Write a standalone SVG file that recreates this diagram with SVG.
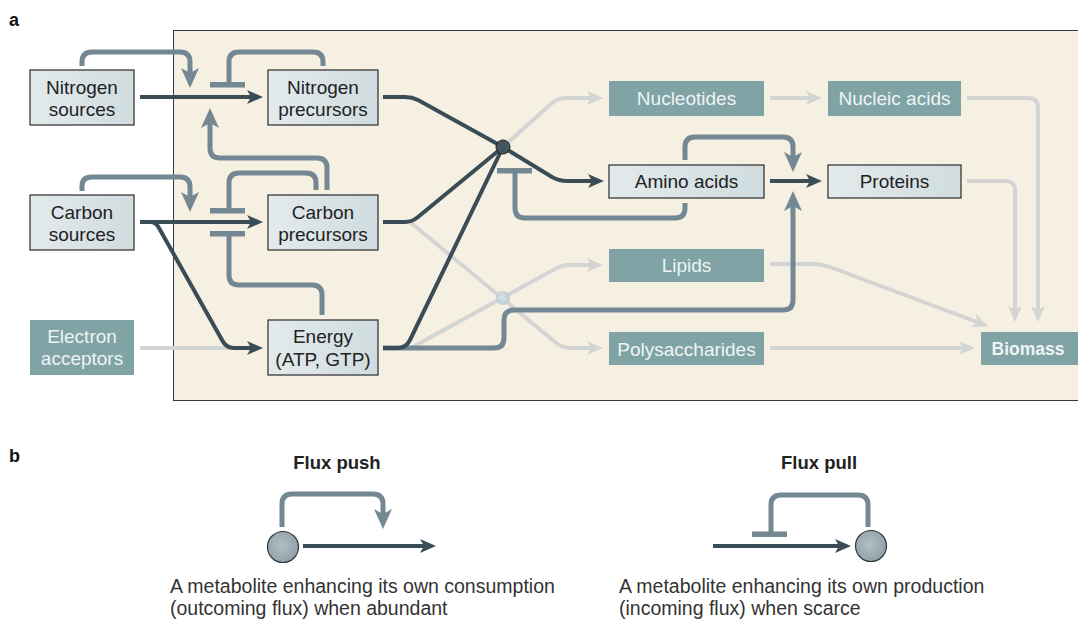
<svg xmlns="http://www.w3.org/2000/svg" width="1078" height="619" viewBox="0 0 1078 619">
<style>
text{font-family:"Liberation Sans",Arial,sans-serif;}
.lbl{font-size:19px;fill:#222;text-anchor:middle;}
.tl{font-size:19px;fill:#eef4f4;text-anchor:middle;}
.hd{font-size:18px;font-weight:bold;fill:#111;}
.ttl{font-size:18.5px;font-weight:bold;fill:#222;text-anchor:middle;}
.cap{font-size:19.5px;fill:#333;}
.box{fill:url(#ng);stroke:#2b2b2b;stroke-width:1.2;}
.teal{fill:#80a3a5;}
.dk{fill:none;stroke:#3a4c56;stroke-width:4;marker-end:url(#ad);}
.dkn{fill:none;stroke:#3a4c56;stroke-width:4;}
.lt{fill:none;stroke:#d3d5d4;stroke-width:4;marker-end:url(#al);}
.ltn{fill:none;stroke:#d3d5d4;stroke-width:4;}
.gb{fill:none;stroke:#738893;stroke-width:5;marker-end:url(#ag);}
.gbn{fill:none;stroke:#738893;stroke-width:5;}
.bar{fill:#738893;}
</style>
<defs>
<linearGradient id="ng" x1="0" y1="0" x2="1" y2="0">
<stop offset="0" stop-color="#e3eaec"/>
<stop offset="1" stop-color="#d0dcdf"/>
</linearGradient>
<radialGradient id="cg" cx="0.45" cy="0.45" r="0.6">
<stop offset="0" stop-color="#b3bfc5"/>
<stop offset="1" stop-color="#8f9ea6"/>
</radialGradient>
<radialGradient id="lg" cx="0.45" cy="0.45" r="0.6">
<stop offset="0" stop-color="#d9e2e6"/>
<stop offset="1" stop-color="#b9c8cf"/>
</radialGradient>
<marker id="ad" markerUnits="userSpaceOnUse" markerWidth="16" markerHeight="14" refX="4" refY="7" orient="auto" viewBox="0 0 16 14">
<path d="M0,0 L16,7 L0,14 L4,7 z" fill="#3a4c56"/>
</marker>
<marker id="al" markerUnits="userSpaceOnUse" markerWidth="16" markerHeight="14" refX="4" refY="7" orient="auto" viewBox="0 0 16 14">
<path d="M0,0 L16,7 L0,14 L4,7 z" fill="#d3d5d4"/>
</marker>
<marker id="ag" markerUnits="userSpaceOnUse" markerWidth="20" markerHeight="18" refX="5" refY="9" orient="auto" viewBox="0 0 20 18">
<path d="M0,0 L20,9 L0,18 L5,9 z" fill="#738893"/>
</marker>
</defs>

<rect x="173.5" y="30.5" width="910" height="370" fill="#f6f0e3" stroke="#3a3a3a" stroke-width="1"/>
<text class="hd" x="9" y="26">a</text>
<text class="hd" x="9" y="462">b</text>

<g id="connectors">
<!-- light grey -->
<path class="ltn" d="M140,348 H234"/>
<path class="lt" d="M503,147 L552,103 Q558,98 566,98 H591"/>
<path class="lt" d="M770,98 H810"/>
<path class="lt" d="M967,98 H1028 Q1038,98 1038,108 V310"/>
<path class="lt" d="M967,181 H1005 Q1015,181 1015,191 V310"/>
<path class="lt" d="M770,264 H815 Q822,264 830,267 L977,322"/>
<path class="lt" d="M770,348 H963"/>
<path class="lt" d="M410,222 L555,342 Q562,348 570,348 H591"/>
<path class="lt" d="M411,348 L553,270 Q561,265 570,265 H591"/>
<!-- grey-blue regulation -->
<path class="gb" d="M82,66 V62 Q82,52 92,52 H180 Q190,52 190,62 V73"/>
<path class="gbn" d="M323,66 V62 Q323,52 313,52 H239 Q229,52 229,62 V85"/>
<rect class="bar" x="210" y="82" width="35" height="5.5"/>
<path class="gb" d="M327,190 V168 Q327,158 317,158 H220 Q210,158 210,148 V123"/>
<path class="gb" d="M82,191 V186 Q82,177 92,177 H180 Q190,177 190,187 V197"/>
<path class="gbn" d="M316,190 V183 Q316,173 306,173 H239 Q229,173 229,183 V211"/>
<rect class="bar" x="210" y="208" width="35" height="5.5"/>
<path class="gbn" d="M322,315 V295 Q322,285 312,285 H239 Q229,285 229,275 V233"/>
<rect class="bar" x="210" y="231" width="35" height="5.5"/>
<path class="gb" d="M685,160 V147 Q685,137 695,137 H783 Q793,137 793,147 V157"/>
<path class="gbn" d="M685,203 V208 Q685,218 675,218 H525 Q515,218 515,208 V171"/>
<rect class="bar" x="497" y="168" width="35" height="5.5"/>
<path class="gb" d="M383,348 H494 Q504,348 504,338 V320 Q504,310 514,310 H783 Q793,310 793,300 V206"/>
<!-- dark flux -->
<path class="dk" d="M140,97 H251"/>
<path class="dk" d="M140,222 H251"/>
<path class="dk" d="M140,222 H150 Q156,222 159,228 L222,340 Q226,348 234,348 H251"/>
<path class="dkn" d="M383,97 H405 Q412,97 418,100 L503,147"/>
<path class="dkn" d="M383,222 H405 Q412,222 418,217 L503,147"/>
<path class="dkn" d="M383,348 H398 Q406,348 410,340 L503,147"/>
<path class="dk" d="M503,147 L552,177 Q559,181 567,181 H592"/>
<path class="dk" d="M770,181 H810"/>
</g>

<g id="hub-main"><circle cx="503" cy="147" r="7" fill="#45555e" stroke="#222" stroke-width="1"/></g>
<g id="hub-light"><circle cx="503" cy="298" r="7" fill="url(#lg)"/></g>

<g id="nitrogen-sources"><rect class="box" x="30" y="70" width="104" height="55"/><text class="lbl" x="82" y="94">Nitrogen<tspan x="82" dy="22">sources</tspan></text></g>
<g id="nitrogen-precursors"><rect class="box" x="268" y="70" width="110" height="55"/><text class="lbl" x="323" y="94">Nitrogen<tspan x="323" dy="22">precursors</tspan></text></g>
<g id="carbon-sources"><rect class="box" x="30" y="195" width="104" height="55"/><text class="lbl" x="82" y="219">Carbon<tspan x="82" dy="22">sources</tspan></text></g>
<g id="carbon-precursors"><rect class="box" x="268" y="195" width="110" height="55"/><text class="lbl" x="323" y="219">Carbon<tspan x="323" dy="22">precursors</tspan></text></g>
<g id="electron-acceptors"><rect class="teal" x="30" y="320" width="104" height="55"/><text class="tl" x="82" y="343">Electron<tspan x="82" dy="22">acceptors</tspan></text></g>
<g id="energy"><rect class="box" x="268" y="320" width="110" height="55"/><text class="lbl" x="323" y="343">Energy<tspan x="323" dy="23">(ATP, GTP)</tspan></text></g>
<g id="nucleotides"><rect class="teal" x="609" y="81" width="155" height="35"/><text class="tl" x="686.5" y="105">Nucleotides</text></g>
<g id="amino-acids"><rect class="box" x="609" y="165" width="155" height="33"/><text class="lbl" x="686.5" y="188">Amino acids</text></g>
<g id="lipids"><rect class="teal" x="609" y="249" width="155" height="33"/><text class="tl" x="686.5" y="272">Lipids</text></g>
<g id="polysaccharides"><rect class="teal" x="609" y="332" width="155" height="33"/><text class="tl" x="686.5" y="356">Polysaccharides</text></g>
<g id="nucleic-acids"><rect class="teal" x="828" y="81" width="133" height="35"/><text class="tl" x="894.5" y="105">Nucleic acids</text></g>
<g id="proteins"><rect class="box" x="828" y="165" width="133" height="33"/><text class="lbl" x="894.5" y="188">Proteins</text></g>
<g id="biomass"><rect class="teal" x="981" y="332" width="97" height="33"/><text class="tl" x="1028" y="355" style="font-weight:bold;font-size:17.5px">Biomass</text></g>

<g id="flux-push">
<text class="ttl" x="337" y="469">Flux push</text>
<path class="gb" d="M282,527 V504 Q282,494 292,494 H373 Q383,494 383,504 V514"/>
<path class="dk" d="M303,546 H424"/>
<circle cx="283" cy="547" r="15.5" fill="url(#cg)" stroke="#2f3a40" stroke-width="1.2"/>
<text class="cap" x="170" y="593">A metabolite enhancing its own consumption<tspan x="170" dy="22">(outcoming flux) when abundant</tspan></text>
</g>
<g id="flux-pull">
<text class="ttl" x="819" y="469">Flux pull</text>
<path class="gbn" d="M868,527 V505 Q868,495 858,495 H781 Q771,495 771,505 V534"/>
<rect class="bar" x="752" y="531.5" width="35" height="5.5"/>
<path class="dk" d="M713,546 H839"/>
<circle cx="871" cy="546" r="15.5" fill="url(#cg)" stroke="#2f3a40" stroke-width="1.2"/>
<text class="cap" x="619" y="593">A metabolite enhancing its own production<tspan x="619" dy="22">(incoming flux) when scarce</tspan></text>
</g>
</svg>
